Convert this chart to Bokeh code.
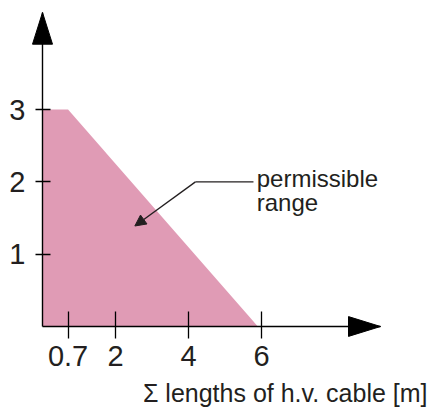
from bokeh.plotting import figure
from bokeh.models import (Label, Arrow, NormalHead, FixedTicker, Range1d,
                          NumeralTickFormatter, Title)
from bokeh.embed import file_html
from bokeh.resources import INLINE

# ---- data ----
region_x = [0, 0, 0.7, 5.9]
region_y = [0, 3, 3, 0]
x_ticks = [0.7, 2, 4, 6]
y_ticks = [1, 2, 3]
x_title = "Σ lengths of h.v. cable [m]"
region_label = ["permissible", "range"]
region_label_x = 5.87
region_label_y = [2.04, 1.71]
pointer_x = [5.78, 4.19, 2.53]
pointer_y = [2.0, 2.0, 1.39]

# ---- styling / geometry ----
FONT = "Liberation Sans"
TXT = "#231f20"
FILL = "#e09bb5"
W, H = 429, 414
LEFT, TOP, BOTTOM = 42, 12, 85
PX_X = 36.5   # px per x unit
PX_Y = 73.0   # px per y unit
X_END = (W - LEFT) / PX_X
Y_END = (H - TOP - BOTTOM) / PX_Y
X_TIP = (380 - LEFT) / PX_X

p = figure(width=W, height=H, output_backend="svg", toolbar_location=None,
           x_range=Range1d(0, X_END), y_range=Range1d(0, Y_END),
           min_border_left=LEFT, min_border_right=0, min_border_top=TOP, min_border_bottom=BOTTOM)
p.outline_line_color = None
p.grid.visible = False
p.background_fill_color = "white"

p.patch(region_x, region_y, fill_color=FILL, line_color=None)

for ax, ticks, fmt in ((p.xaxis[0], x_ticks, "0.[0]"), (p.yaxis[0], y_ticks, "0")):
    ax.ticker = FixedTicker(ticks=ticks)
    ax.formatter = NumeralTickFormatter(format=fmt)
    ax.axis_line_color = "black"
    ax.axis_line_width = 1.4
    ax.major_tick_line_color = "black"
    ax.major_tick_line_width = 1.3
    ax.minor_tick_line_color = None
    ax.major_label_text_font = FONT
    ax.major_label_text_font_size = "29px"
    ax.major_label_text_color = TXT

p.xaxis.bounds = (0, X_TIP)
p.xaxis.major_tick_in = 15
p.xaxis.major_tick_out = 12
p.xaxis.major_label_standoff = 7
p.yaxis.major_tick_in = 8
p.yaxis.major_tick_out = 7
p.yaxis.major_label_standoff = 10

p.add_layout(Title(text=x_title, align="right", offset=2, standoff=16, text_font=FONT,
                   text_font_size="25px", text_font_style="normal", text_color=TXT), "below")

# axis arrowheads (drawn above the frame clip)
hl, hw = 32, 20
p.patch([-hw / 2 / PX_X, hw / 2 / PX_X, 0],
        [Y_END - hl / PX_Y, Y_END - hl / PX_Y, Y_END],
        fill_color="black", line_color="black", level="overlay")
p.patch([X_TIP - hl / PX_X, X_TIP - hl / PX_X, X_TIP],
        [-hw / 2 / PX_Y, hw / 2 / PX_Y, 0],
        fill_color="black", line_color="black", level="overlay")

# pointer
p.line(pointer_x[:2], pointer_y[:2], line_color=TXT, line_width=1.3)
p.add_layout(Arrow(x_start=pointer_x[1], y_start=pointer_y[1], x_end=pointer_x[2], y_end=pointer_y[2],
                   line_color=TXT, line_width=1.3,
                   end=NormalHead(size=11, fill_color=TXT, line_color=TXT)))

for t, yy in zip(region_label, region_label_y):
    p.add_layout(Label(x=region_label_x, y=yy, text=t, text_font=FONT, text_font_size="24px",
                       text_color=TXT, text_baseline="alphabetic"))

open("out.html", "w").write(file_html(p, INLINE))
